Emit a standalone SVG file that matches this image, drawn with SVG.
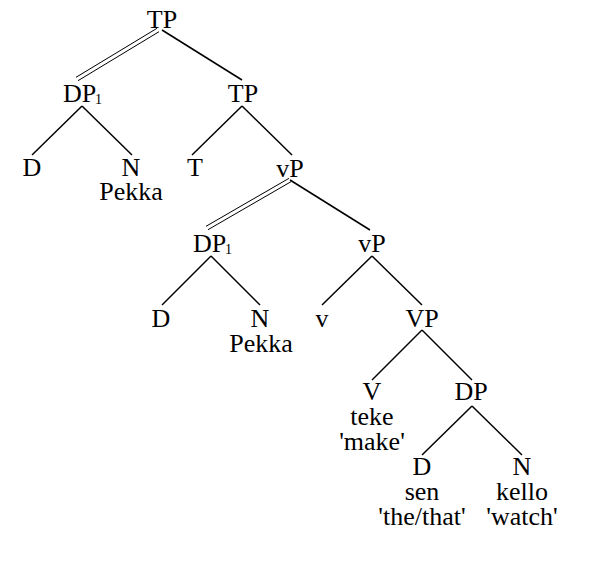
<svg xmlns="http://www.w3.org/2000/svg" width="610" height="570" viewBox="0 0 610 570">
<style>
text{font-family:"Liberation Serif","Times New Roman",serif;font-size:26px;fill:#000;text-anchor:middle}
text.sub{font-size:14px;text-anchor:start}
text.lbl{text-anchor:start}
.e{stroke:#000;stroke-width:1.5;fill:none}
.d{stroke:#000;stroke-width:1;fill:none}
</style>
<rect width="610" height="570" fill="#fff"/>
<g id="connectors">
<line class="e" x1="162" y1="30" x2="242" y2="80"/>
<line class="d" x1="157" y1="28.3" x2="76" y2="77.3"/>
<line class="d" x1="159" y1="31.7" x2="78" y2="80.7"/>
<line class="e" x1="82" y1="106" x2="32" y2="155"/>
<line class="e" x1="82" y1="106" x2="132" y2="155"/>
<line class="e" x1="242" y1="106" x2="192" y2="155"/>
<line class="e" x1="242" y1="106" x2="292" y2="155"/>
<line class="e" x1="290" y1="180" x2="370" y2="230"/>
<line class="d" x1="289" y1="178.3" x2="206" y2="226.3"/>
<line class="d" x1="291" y1="181.7" x2="208" y2="229.7"/>
<line class="e" x1="211" y1="256" x2="162" y2="305"/>
<line class="e" x1="211" y1="256" x2="260" y2="305"/>
<line class="e" x1="372" y1="256" x2="322" y2="305"/>
<line class="e" x1="372" y1="256" x2="422" y2="305"/>
<line class="e" x1="422" y1="330" x2="372" y2="380"/>
<line class="e" x1="422" y1="330" x2="472" y2="380"/>
<line class="e" x1="472" y1="406" x2="422" y2="455"/>
<line class="e" x1="472" y1="406" x2="522" y2="455"/>
</g>
<g id="TP0"><text x="162" y="28">TP</text></g>
<g id="DP1a"><text class="lbl" x="63" y="102">DP</text><text class="sub" x="95" y="104">1</text></g>
<g id="TP1"><text x="243" y="102">TP</text></g>
<g id="Da"><text x="32" y="176">D</text></g>
<g id="Na"><text x="131" y="176">N</text><text x="131" y="200">Pekka</text></g>
<g id="T"><text x="195" y="176">T</text></g>
<g id="vP1"><text x="290" y="177">vP</text></g>
<g id="DP1b"><text class="lbl" x="193" y="252">DP</text><text class="sub" x="225" y="254">1</text></g>
<g id="vP2"><text x="372" y="252">vP</text></g>
<g id="Db"><text x="161" y="327">D</text></g>
<g id="Nb"><text x="260" y="327">N</text><text x="261" y="352">Pekka</text></g>
<g id="v"><text x="322" y="327">v</text></g>
<g id="VP"><text x="422" y="327">VP</text></g>
<g id="V"><text x="372" y="400">V</text><text x="372" y="425">teke</text><text x="372" y="450">'make'</text></g>
<g id="DP"><text x="471" y="400">DP</text></g>
<g id="Dc"><text x="422" y="475">D</text><text x="422" y="500">sen</text><text x="422" y="525">'the/that'</text></g>
<g id="Nc"><text x="522" y="475">N</text><text x="522" y="500">kello</text><text x="522" y="525">'watch'</text></g>
</svg>
